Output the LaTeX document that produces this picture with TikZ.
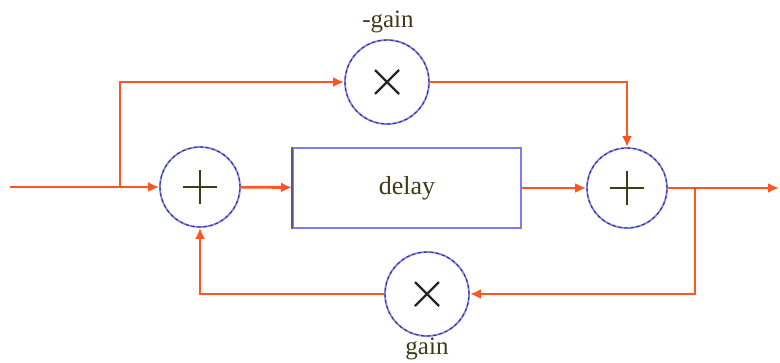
\documentclass[tikz,border=0pt]{standalone}
\usepackage{fontspec}
\setmainfont{Liberation Serif}
\usetikzlibrary{arrows.meta,calc}
\definecolor{wire}{RGB}{255,85,35}
\definecolor{ring}{RGB}{125,125,235}
\definecolor{ringdark}{RGB}{45,45,110}
\definecolor{signcol}{RGB}{60,60,25}
\tikzset{
  wire/.style={draw=wire, line width=2.8pt},
  sig/.style={wire, -{Latex[length=11pt,width=10pt]}},
  junction/.style={circle, draw=ring, line width=1.8pt, minimum size=80pt, inner sep=0pt,
    postaction={draw=ringdark, line width=0.9pt, dash pattern=on 3pt off 3pt}},
  delaybox/.style={draw=ring, line width=2pt, minimum width=228pt, minimum height=80pt,
    font=\fontsize{26}{30}\selectfont, text=signcol},
  label/.style={font=\fontsize{25}{30}\selectfont, text=signcol},
}
\def\plusmark(#1){\draw[signcol, line width=2.4pt] ($(#1)+(-17,0)$) -- ($(#1)+(17,0)$);
  \draw[signcol, line width=2.4pt] ($(#1)+(0,-17)$) -- ($(#1)+(0,17)$);}
\def\timesmark(#1){\draw[black!85, line width=2.2pt] ($(#1)+(-12,-12)$) -- ($(#1)+(12,12)$);
  \draw[black!85, line width=2.2pt] ($(#1)+(-12,12)$) -- ($(#1)+(12,-12)$);}
\begin{document}
\begin{tikzpicture}[x=1pt, y=-1pt]
  \useasboundingbox (0,0) rectangle (780,362);

  % blocks
  \node[junction] (add1) at (200,187) {};
  \node[junction] (add2) at (627,188) {};
  \node[junction, minimum size=84pt] (neg) at (387,82) {};
  \node[junction, minimum size=84pt] (pos) at (427,294) {};
  \node[delaybox] (dly) at (407,188) {delay};
  \draw[ringdark!80, line width=2pt] (dly.north west) -- (dly.south west);
  \plusmark(add1)
  \plusmark(add2)
  \timesmark(neg)
  \timesmark(pos)

  \node[label] (neglbl) at (388,22) {-gain};
  \node[label] (poslbl) at (427,349) {gain};

  % signal path
  \coordinate (in) at (10,187);
  \coordinate (split) at (120,187);
  \coordinate (tap) at (695,188);
  \coordinate (out) at (779,188);

  \draw[sig] (in) -- (add1);
  \draw[sig, line width=2.2pt] (split) |- (neg.west);
  \draw[sig] (neg.east) -| (add2.north);
  \draw[sig] (add1) -- (dly);
  \draw[sig] (dly) -- (add2);
  \draw[sig] (add2) -- (out);
  \draw[sig] (tap) |- (pos.east);
  \draw[sig] (pos.west) -| (add1.south);
\end{tikzpicture}
\end{document}
